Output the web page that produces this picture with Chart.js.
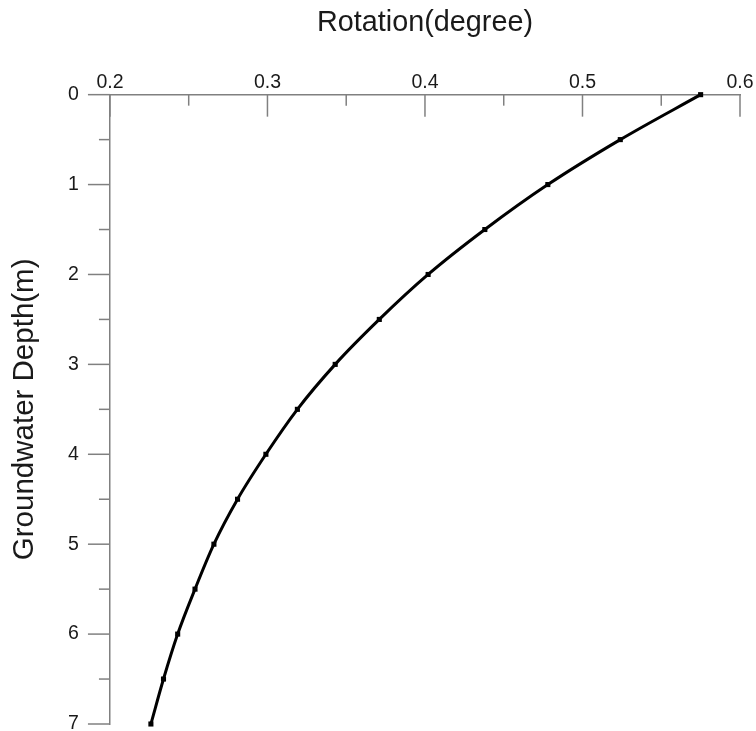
<!DOCTYPE html>
<html>
<head>
<meta charset="utf-8">
<script src="https://cdn.jsdelivr.net/npm/chart.js@4"></script>
<style>
  html, body { margin: 0; padding: 0; background: #fff; }
  #wrap { width: 756px; height: 731px; }
</style>
</head>
<body>
<div id="wrap"><canvas id="chart" width="756" height="731"></canvas></div>
<script>
// groundwater depth (m) and rotation (degree)
const depth = [0, 0.5, 1, 1.5, 2, 2.5, 3, 3.5, 4, 4.5, 5, 5.5, 6, 6.5, 7];
const rotation = [0.575, 0.524, 0.478, 0.438, 0.402, 0.371, 0.343, 0.319, 0.299, 0.281, 0.266, 0.254, 0.243, 0.234, 0.226];

// axis ticks
const xTicks = [0.2, 0.3, 0.4, 0.5, 0.6];
const xMinor = [0.25, 0.35, 0.45, 0.55];
const yTicks = [0, 1, 2, 3, 4, 5, 6, 7];
const yMinor = [0.5, 1.5, 2.5, 3.5, 4.5, 5.5, 6.5];

const axisColor = "#808080";
const textColor = "#1a1a1a";
const family = "'Liberation Sans', Arial, sans-serif";

// ticks in the original point inward on top and outward on the left,
// with shorter minor ticks, so they are drawn here from the scales
const tickMarks = {
  id: "tickMarks",
  afterDatasetsDraw(chart) {
    const { ctx, chartArea, scales: { x, y } } = chart;
    ctx.save();
    ctx.strokeStyle = axisColor;
    ctx.lineWidth = 1.5;
    const seg = (x1, y1, x2, y2) => {
      ctx.beginPath();
      ctx.moveTo(x1, y1);
      ctx.lineTo(x2, y2);
      ctx.stroke();
    };
    xTicks.forEach((v) => {
      const px = x.getPixelForValue(v);
      seg(px, chartArea.top, px, chartArea.top + 22);
    });
    xMinor.forEach((v) => {
      const px = x.getPixelForValue(v);
      seg(px, chartArea.top, px, chartArea.top + 11);
    });
    yTicks.forEach((v) => {
      const py = y.getPixelForValue(v);
      seg(chartArea.left - 22, py, chartArea.left, py);
    });
    yMinor.forEach((v) => {
      const py = y.getPixelForValue(v);
      seg(chartArea.left - 11, py, chartArea.left, py);
    });
    ctx.restore();
  },
};

new Chart(document.getElementById("chart"), {
  type: "line",
  data: {
    datasets: [
      {
        data: depth.map((d, i) => ({ x: rotation[i], y: d })),
        borderColor: "#000",
        borderWidth: 3,
        backgroundColor: "#000",
        pointStyle: "rect",
        pointRadius: 3.6,
        pointBorderWidth: 0,
        cubicInterpolationMode: "monotone",
        fill: false,
        clip: false,
      },
    ],
  },
  options: {
    responsive: false,
    animation: false,
    devicePixelRatio: 1,
    layout: { padding: { top: 0, left: 0, right: 16, bottom: 7 } },
    plugins: { legend: { display: false }, tooltip: { enabled: false } },
    scales: {
      x: {
        type: "linear",
        position: "top",
        min: 0.2,
        max: 0.6,
        afterBuildTicks: (s) => { s.ticks = xTicks.map((v) => ({ value: v })); },
        grid: { display: false, drawTicks: false },
        border: { display: true, color: axisColor, width: 1.5 },
        ticks: {
          padding: 0,
          color: textColor,
          font: { family, size: 19.5, lineHeight: 1.2 },
          callback: (v) => v.toFixed(1),
        },
        title: {
          display: true,
          text: "Rotation(degree)",
          color: textColor,
          font: { family, size: 28.8, lineHeight: 1.2 },
          padding: { top: 6, bottom: 30.7 },
        },
      },
      y: {
        type: "linear",
        reverse: true,
        min: 0,
        max: 7,
        afterBuildTicks: (s) => { s.ticks = yTicks.map((v) => ({ value: v })); },
        // transparent ticks only reserve the gap between labels and axis
        grid: { display: true, drawOnChartArea: false, drawTicks: true, tickLength: 31, color: "rgba(0,0,0,0)" },
        border: { display: true, color: axisColor, width: 1.5 },
        ticks: {
          padding: 0,
          color: textColor,
          font: { family, size: 19.5, lineHeight: 0.7 },
        },
        title: {
          display: true,
          text: "Groundwater Depth(m)",
          color: textColor,
          font: { family, size: 29.5, lineHeight: 1.2 },
          padding: { top: 7.5, bottom: 25.2 },
        },
      },
    },
  },
  plugins: [tickMarks],
});
</script>
</body>
</html>
